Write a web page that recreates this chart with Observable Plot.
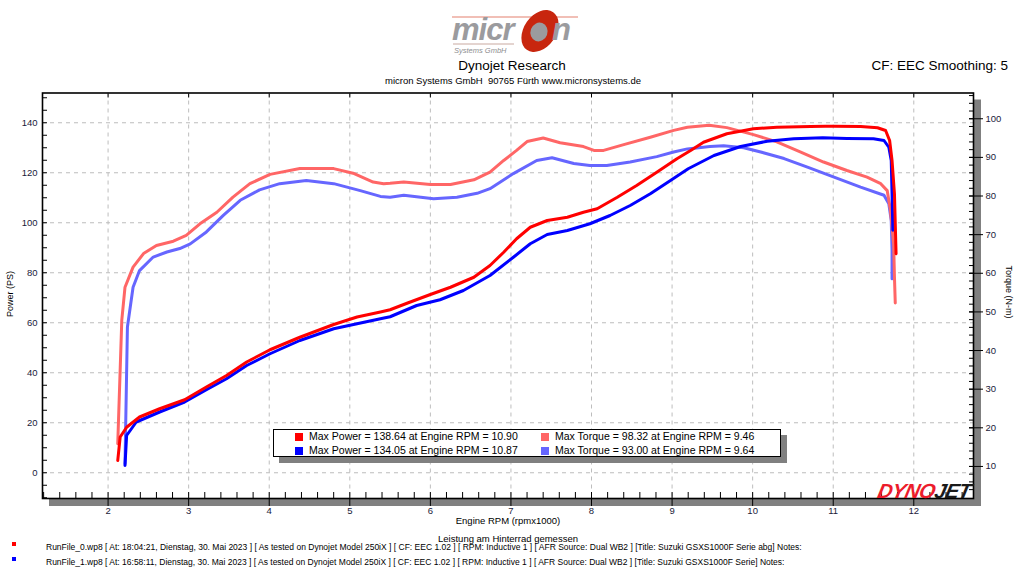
<!DOCTYPE html>
<html><head><meta charset="utf-8">
<script src="https://cdn.jsdelivr.net/npm/d3@7"></script>
<script src="https://cdn.jsdelivr.net/npm/@observablehq/plot@0.6"></script>
<style>
body{margin:0;background:#fff;font-family:"Liberation Sans",Arial,sans-serif;}
#wrap{position:relative;width:1024px;height:576px;overflow:hidden;background:#fff;}
.abs{position:absolute;white-space:nowrap;line-height:1;}
#plot{position:absolute;left:0;top:88px;}
.leg{position:absolute;font-size:11.5px;color:#000;white-space:nowrap;line-height:1;transform:scaleX(0.915);transform-origin:0 0;}
.sq{position:absolute;width:8px;height:8px;}
</style></head><body><div id="wrap">

<svg class="abs" style="left:448px;top:4px" width="134" height="52" viewBox="0 0 134 52">
  <line x1="4" y1="13" x2="130" y2="13" stroke="#e3806e" stroke-width="1.2"/>
  <ellipse cx="92" cy="27" rx="16" ry="23" transform="rotate(35 92 27)" fill="#c8260e"/>
  <text x="4" y="36" font-family="Liberation Sans" font-style="italic" font-weight="bold" font-size="31" fill="#9b9b9e" letter-spacing="-1">micr</text>
  <ellipse cx="91" cy="28" rx="8.5" ry="9.5" transform="rotate(20 91 28)" fill="#9b9b9e"/>
  <text x="104" y="36" font-family="Liberation Sans" font-style="italic" font-weight="bold" font-size="31" fill="#9b9b9e">n</text>
  <line x1="5" y1="40" x2="66" y2="40" stroke="#c9a9a0" stroke-width="1"/>
  <text x="6" y="49" font-family="Liberation Sans" font-style="italic" font-size="7.5" fill="#8e8e90">Systems GmbH</text>
</svg>

<div class="abs" id="title" style="left:512px;top:59px;transform:translateX(-50%);font-size:13.5px;color:#000;">Dynojet Research</div>
<div class="abs" id="sub" style="left:513px;top:76px;transform:translateX(-50%);font-size:9.5px;color:#000;">micron Systems GmbH&nbsp; 90765 Fürth www.micronsystems.de</div>
<div class="abs" style="right:16px;top:59px;font-size:13.5px;color:#000;">CF: EEC Smoothing: 5</div>

<div id="plot"></div>

<div class="abs" style="left:10px;top:294px;transform:translate(-50%,-50%) rotate(-90deg);font-size:9px;color:#000;">Power (PS)</div>
<div class="abs" style="left:1008px;top:292px;transform:translate(-50%,-50%) rotate(90deg);font-size:9px;color:#000;">Torque (N-m)</div>
<div class="abs" style="left:508px;top:516px;transform:translateX(-50%);font-size:9.5px;color:#000;">Engine RPM (rpmx1000)</div>

<div class="abs" style="left:878px;top:481px;font-size:20.5px;font-weight:900;font-style:italic;letter-spacing:-0.6px;transform:skewX(-12deg);"><span style="color:#ec1c2c">DYNO</span><span style="color:#1a1a1a">JET</span></div>

<div style="position:absolute;left:273px;top:429px;width:508px;height:28px;border:1.5px solid #000;box-sizing:border-box;background:#fff;box-shadow:6px 6px 0 #808080;"></div>
<div class="sq" style="left:295px;top:433px;background:#ff0000"></div>
<div class="leg" id="l1" style="left:309px;top:431px;"></div>
<div class="sq" style="left:295px;top:447px;background:#0000ff"></div>
<div class="leg" id="l2" style="left:309px;top:445px;"></div>
<div class="sq" style="left:541px;top:433px;background:#ff6666"></div>
<div class="leg" id="l3" style="left:555px;top:431px;"></div>
<div class="sq" style="left:541px;top:447px;background:#6666ff"></div>
<div class="leg" id="l4" style="left:555px;top:445px;"></div>

<div class="abs" style="left:508px;top:534px;transform:translateX(-50%);font-size:9.5px;color:#000;">Leistung am Hinterrad gemessen</div>
<div class="abs" style="left:12px;top:542px;width:4px;height:4px;background:#ff0000"></div>
<div class="abs" id="f1" style="left:46px;top:543px;font-size:8.5px;color:#000;"></div>
<div class="abs" style="left:12px;top:557px;width:4px;height:4px;background:#0000ff"></div>
<div class="abs" id="f2" style="left:46px;top:558px;font-size:8.5px;color:#000;"></div>
</div>

<script>
// ---- Data ----
// Run 0 (red): power in PS vs engine RPM (x1000)
const run0PowerRpm = [2.12,2.15,2.23,2.39,2.64,2.95,3.22,3.47,3.72,4.01,4.38,4.80,5.09,5.38,5.50,5.71,6.00,6.25,6.54,6.74,6.91,7.07,7.24,7.45,7.70,7.90,8.07,8.32,8.56,8.81,9.06,9.23,9.39,9.68,10.01,10.30,10.72,10.90,11.01,11.34,11.55,11.65,11.70,11.73,11.76,11.78];
const run0Power    = [4.9,14.3,18.2,22.3,25.6,29.2,34.3,38.9,44.3,49.2,54.2,59.3,62.3,64.3,65.2,67.8,71.3,74.2,78.2,82.9,88.2,93.6,98.2,100.9,102.2,104.2,105.6,110.2,114.9,120.2,125.6,128.9,132.2,135.6,137.6,138.2,138.5,138.6,138.6,138.5,138.0,136.9,132.9,124.9,111.6,87.6];
// Run 1 (blue): power in PS
const run1PowerRpm = [2.21,2.23,2.35,2.64,2.95,3.22,3.47,3.72,4.01,4.38,4.80,5.09,5.38,5.50,5.83,6.12,6.41,6.74,7.03,7.24,7.45,7.70,7.98,8.23,8.48,8.73,8.98,9.20,9.52,9.85,10.18,10.51,10.87,11.17,11.50,11.63,11.69,11.72,11.73,11.74];
const run1Power    = [2.9,14.9,20.3,24.3,28.3,33.2,37.6,42.9,47.6,52.9,57.6,59.6,61.6,62.4,66.9,69.2,72.9,78.9,86.2,91.6,95.3,96.9,99.6,102.9,106.9,111.6,116.9,121.6,126.9,130.5,132.6,133.6,134.0,133.7,133.6,132.9,130.2,124.9,111.6,97.0];
// Run 0 (light red): torque in N-m
const run0TorqueRpm = [2.12,2.17,2.21,2.31,2.44,2.60,2.81,2.97,3.14,3.35,3.55,3.76,4.01,4.38,4.80,5.04,5.29,5.42,5.50,5.67,6.00,6.25,6.54,6.74,6.91,7.07,7.20,7.40,7.61,7.90,8.03,8.15,8.40,8.73,9.02,9.19,9.46,9.68,10.01,10.30,10.59,10.88,11.17,11.42,11.59,11.67,11.71,11.75,11.76,11.77];
const run0Torque    = [15.9,47.8,56.4,61.6,65.1,67.2,68.3,69.8,72.8,75.8,79.7,83.2,85.6,87.1,87.1,85.9,83.6,83.2,83.3,83.6,83.0,83.0,84.2,86.2,89.2,91.8,94.1,95.0,93.8,92.8,91.8,91.8,93.3,95.2,97.0,97.8,98.3,97.7,95.9,94.0,91.4,88.8,86.6,84.9,83.2,81.4,76.3,67.6,59.0,52.3];
// Run 1 (light blue): torque in N-m
const run1TorqueRpm = [2.21,2.24,2.31,2.39,2.56,2.73,2.89,3.02,3.22,3.43,3.64,3.88,4.13,4.46,4.80,5.13,5.38,5.50,5.67,6.04,6.33,6.58,6.74,7.03,7.32,7.51,7.78,7.98,8.19,8.48,8.81,9.02,9.19,9.47,9.64,9.89,10.10,10.39,10.68,11.01,11.34,11.63,11.69,11.72,11.73,11.73];
const run1Torque    = [10.7,46.1,56.4,60.7,64.2,65.5,66.4,67.6,70.7,75.0,78.9,81.6,83.2,84.0,83.2,81.4,79.9,79.7,80.2,79.3,79.7,80.7,81.9,85.8,89.2,89.9,88.4,87.9,87.9,88.8,90.2,91.4,92.2,92.8,93.0,92.5,91.4,89.7,87.5,84.9,82.3,80.2,78.0,73.7,65.9,58.6];

// Tick values
const rpmTicks = [2,3,4,5,6,7,8,9,10,11,12];
const powerTicks = [0,20,40,60,80,100,120,140];
const torqueTicks = [10,20,30,40,50,60,70,80,90,100];

// Legend / footer texts
const legendTexts = [
  "Max Power = 138.64 at Engine RPM = 10.90",
  "Max Power = 134.05 at Engine RPM = 10.87",
  "Max Torque = 98.32 at Engine RPM = 9.46",
  "Max Torque = 93.00 at Engine RPM = 9.64"
];
const footerTexts = [
  "RunFile_0.wp8 [ At: 18:04:21, Dienstag, 30. Mai 2023 ] [ As tested on Dynojet Model 250iX ] [ CF: EEC 1.02 ] [ RPM: Inductive 1 ] [ AFR Source: Dual WB2 ] [Title: Suzuki GSXS1000F Serie abg]  Notes:",
  "RunFile_1.wp8 [ At: 16:58:11, Dienstag, 30. Mai 2023 ] [ As tested on Dynojet Model 250iX ] [ CF: EEC 1.02 ] [ RPM: Inductive 1 ] [ AFR Source: Dual WB2 ] [Title: Suzuki GSXS1000F Serie]  Notes:"
];

// ---- Build ----
["l1","l2","l3","l4"].forEach((id,i)=>document.getElementById(id).textContent = legendTexts[i]);
document.getElementById("f1").textContent = footerTexts[0];
document.getElementById("f2").textContent = footerTexts[1];

// Torque axis (right) shares the plot's y scale via a linear mapping
const tA = 1.5453, tB = -12.93;
const toP = t => tA * t + tB;
const fromP = p => (p - tB) / tA;

const rows = (rpm, vals, f = v => v) => rpm.map((r, i) => ({rpm: r, v: f(vals[i])}));
const p0 = rows(run0PowerRpm, run0Power);
const p1 = rows(run1PowerRpm, run1Power);
const t0 = rows(run0TorqueRpm, run0Torque, toP);
const t1 = rows(run1TorqueRpm, run1Torque, toP);

const rpmMinor = d3.range(12, 128, 2).map(v => v / 10);
const powerMinor = d3.range(-10, 152, 5);
const torqueMinor = d3.range(4, 108, 2).map(toP);

const axisColor = "#1a1a3a";
const chart = Plot.plot({
  width: 1024, height: 444,
  marginLeft: 42, marginRight: 51, marginTop: 4.5, marginBottom: 34,
  x: {domain: [1.186, 12.741], label: null},
  y: {domain: [-10.3, 151.9], label: null},
  style: {fontFamily: "Liberation Sans, Arial, sans-serif", fontSize: "9.5px", color: axisColor, background: "transparent", overflow: "visible"},
  marks: [
    Plot.frame({fill: "#808080", stroke: "#808080", dx: 7, dy: 7}),
    Plot.frame({fill: "#ffffff", stroke: "none"}),
    Plot.gridX(rpmTicks, {stroke: "#bdbdbd", strokeOpacity: 1, strokeDasharray: "4,4"}),
    Plot.gridY(powerTicks, {stroke: "#bdbdbd", strokeOpacity: 1, strokeDasharray: "4,4"}),
    Plot.line(t1, {x: "rpm", y: "v", stroke: "#6666ff", strokeWidth: 3}),
    Plot.line(t0, {x: "rpm", y: "v", stroke: "#ff6666", strokeWidth: 3}),
    Plot.line(p1, {x: "rpm", y: "v", stroke: "#0000ff", strokeWidth: 3}),
    Plot.line(p0, {x: "rpm", y: "v", stroke: "#ff0000", strokeWidth: 3}),
    Plot.frame({stroke: "#000", strokeWidth: 1.6}),
    // bottom axis
    Plot.axisX(rpmTicks, {anchor: "bottom", tickSize: 8, tickPadding: 1, stroke: "#000", label: null}),
    Plot.axisX(rpmMinor, {anchor: "bottom", tickSize: 6, dy: -6, stroke: "#000", tickFormat: () => "", label: null}),
    Plot.axisX(rpmTicks, {anchor: "top", tickSize: 4, dy: 4, stroke: "#000", tickFormat: () => "", label: null}),
    // left axis (power)
    Plot.axisY(powerTicks, {anchor: "left", tickSize: 0, tickPadding: 5, label: null}),
    Plot.axisY(powerMinor, {anchor: "left", tickSize: 5, dx: 5, stroke: "#000", tickFormat: () => "", label: null}),
    // right axis (torque)
    Plot.axisY(torqueTicks.map(toP), {anchor: "right", tickSize: 9, tickPadding: 3, stroke: "#000", tickFormat: p => String(Math.round(fromP(p))), label: null}),
    Plot.axisY(torqueTicks.map(toP), {anchor: "right", tickSize: 5, dx: -5, stroke: "#000", tickFormat: () => "", label: null}),
    Plot.axisY(torqueMinor, {anchor: "right", tickSize: 5, dx: -5, stroke: "#000", tickFormat: () => "", label: null})
  ]
});
document.getElementById("plot").appendChild(chart);
</script>
</body></html>
